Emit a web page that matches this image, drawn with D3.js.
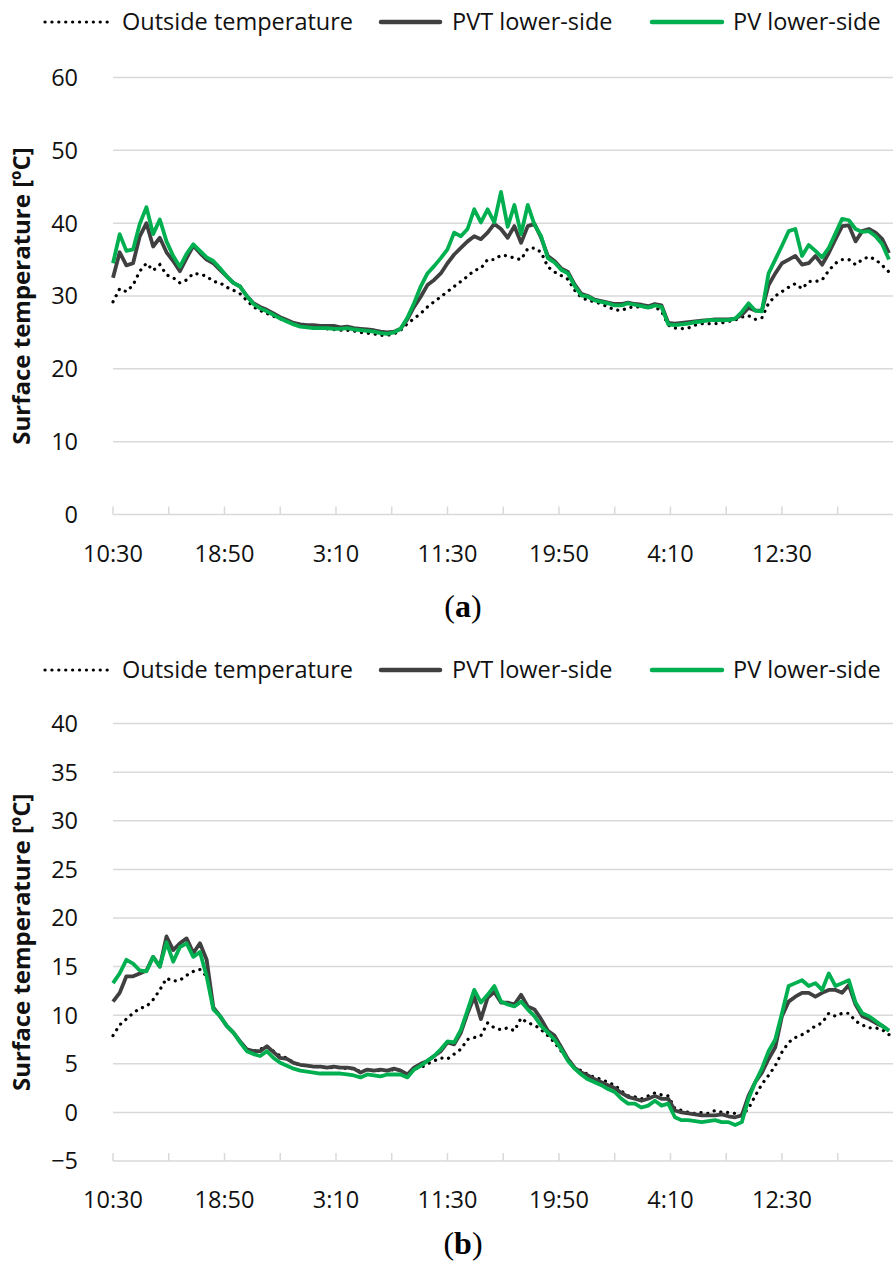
<!DOCTYPE html>
<html><head><meta charset="utf-8">
<script src="https://cdn.jsdelivr.net/npm/d3@7/dist/d3.min.js"></script>
<style>html,body{margin:0;padding:0;background:#fff;}svg{display:block;}</style>
</head><body>
<svg id="chart" width="893" height="1273"></svg>
<script>
// ---- data (30-minute samples starting at 10:30) ----
const startLabel = "10:30";
const stepMinutes = 30;
const xTickLabels = ["10:30","18:50","3:10","11:30","19:50","4:10","12:30"];
const seriesNames = ["Outside temperature","PVT lower-side","PV lower-side"];

const yTicksA = [0,10,20,30,40,50,60];
const outsideA = [29.2,31.0,30.6,31.5,33.4,34.5,33.5,34.3,32.9,32.5,31.8,32.2,33.1,33.0,32.7,32.0,31.8,31.2,30.8,30.3,
29.4,28.5,28.0,27.6,27.2,26.9,26.5,26.2,25.8,25.7,25.6,25.6,25.5,25.4,25.3,25.3,25.2,25.0,24.9,24.8,
24.6,24.6,24.8,25.3,26.2,26.9,27.6,28.5,29.2,29.9,30.6,31.3,32.0,32.7,33.5,33.8,35.0,35.0,35.6,35.5,
35.2,35.0,36.5,36.6,36.0,34.0,33.3,32.8,32.3,30.8,29.8,29.4,29.2,28.9,28.5,28.1,28.0,28.4,28.5,28.5,
28.5,28.5,27.9,26.0,25.6,25.5,25.6,26.0,26.2,26.2,26.2,26.3,26.5,26.7,27.1,27.3,26.8,27.0,29.0,30.0,
30.6,31.2,31.7,31.0,32.0,32.0,32.2,33.5,34.5,35.0,35.0,34.3,35.0,35.4,35.0,34.2,33.3];
const pvtA = [32.5,36.0,34.2,34.5,38.2,40.0,36.8,38.0,36.0,34.8,33.4,35.2,36.9,35.9,35.0,34.5,33.6,32.7,31.8,31.3,
30.0,29.0,28.5,28.1,27.6,27.1,26.7,26.3,26.1,26.0,26.0,25.9,25.9,25.9,25.7,25.8,25.6,25.5,25.4,25.3,
25.1,25.0,25.1,25.5,26.8,28.5,29.9,31.5,32.2,33.1,34.5,35.7,36.6,37.5,38.2,37.8,38.7,39.9,39.2,38.0,
39.6,37.3,39.6,39.9,38.0,35.5,34.8,33.8,33.3,31.6,30.3,30.0,29.5,29.3,29.1,28.9,28.9,29.1,28.9,28.8,
28.6,28.9,28.7,26.3,26.2,26.3,26.4,26.5,26.6,26.7,26.8,26.8,26.8,26.9,27.4,28.4,28.0,28.0,31.5,33.1,
34.5,35.0,35.5,34.3,34.5,35.5,34.3,35.9,37.8,39.6,39.7,37.5,38.9,39.2,38.7,37.8,35.9];
const pvA = [34.5,38.5,36.2,36.4,39.9,42.2,38.5,40.5,37.5,35.5,34.0,35.8,37.1,36.2,35.3,34.8,33.8,32.7,31.8,31.3,
30.0,28.9,28.3,27.9,27.4,26.9,26.5,26.1,25.8,25.7,25.6,25.6,25.6,25.5,25.5,25.6,25.4,25.3,25.2,25.1,
24.9,24.8,25.0,25.5,27.0,29.0,31.3,33.1,34.1,35.2,36.4,38.7,38.2,39.2,41.9,40.1,41.9,40.1,44.3,39.5,
42.5,38.5,42.5,39.8,38.2,35.2,34.6,33.6,33.1,31.4,30.1,29.9,29.4,29.2,29.0,28.7,28.7,29.0,28.8,28.6,
28.4,28.7,28.5,26.1,26.0,26.1,26.2,26.4,26.5,26.7,26.7,26.7,26.7,26.9,27.8,29.0,28.0,27.9,33.1,35.0,
36.9,38.9,39.2,35.5,37.0,36.2,35.3,36.6,38.6,40.6,40.4,39.2,38.8,38.9,38.2,37.1,35.0];

const yTicksB = [-5,0,5,10,15,20,25,30,35,40];
const outsideB = [7.9,9.0,9.6,10.2,10.7,10.9,11.6,12.6,13.8,13.5,13.6,14.1,14.5,14.7,14.0,10.8,9.9,8.9,8.2,7.3,
6.5,6.3,6.5,6.8,6.3,5.8,5.6,5.1,4.9,4.8,4.7,4.7,4.6,4.6,4.6,4.5,4.5,4.2,4.4,4.3,
4.3,4.3,4.4,4.3,3.9,4.5,4.6,5.0,5.3,5.6,5.5,6.0,6.5,7.5,7.7,7.9,9.2,8.7,8.5,8.7,
8.4,9.7,9.2,9.0,8.5,7.9,7.2,6.3,5.5,4.6,4.3,3.9,3.6,3.4,3.1,2.8,2.2,1.7,1.6,1.4,
1.7,2.0,1.8,1.7,0.4,0.2,0.0,-0.1,0.0,-0.1,0.2,0.0,0.0,-0.1,-0.3,0.4,1.7,2.9,3.8,4.8,
6.2,7.2,7.7,8.0,8.4,8.9,9.2,10.2,9.9,10.2,10.2,9.4,9.0,8.7,8.7,8.5,8.0];
const pvtB = [11.4,12.3,14.0,14.0,14.3,14.6,16.0,15.0,18.1,16.7,17.4,17.9,16.4,17.4,15.7,10.8,9.9,8.9,8.2,7.3,
6.5,6.3,6.3,6.8,6.2,5.6,5.5,5.1,4.9,4.8,4.7,4.7,4.6,4.7,4.6,4.6,4.5,4.1,4.4,4.3,
4.4,4.3,4.5,4.3,3.9,4.6,5.0,5.3,5.8,6.3,7.2,7.0,8.2,10.2,11.9,9.6,11.8,12.4,11.3,11.3,
11.1,12.1,10.9,10.6,9.6,8.4,7.9,6.7,5.5,4.6,4.1,3.8,3.4,3.1,2.8,2.5,2.0,1.6,1.4,1.2,
1.4,1.7,1.4,1.4,0.2,0.0,-0.1,-0.2,-0.3,-0.3,-0.3,-0.2,-0.4,-0.5,-0.3,1.7,3.1,4.1,5.5,6.7,
9.9,11.4,11.9,12.3,12.3,11.9,12.3,12.6,12.6,12.3,13.1,11.1,9.9,9.6,9.2,8.9,8.4];
const pvB = [13.3,14.3,15.7,15.3,14.6,14.5,16.0,15.0,17.5,15.5,17.0,17.4,16.0,16.5,14.0,10.6,9.9,8.9,8.2,7.2,
6.3,6.0,5.8,6.3,5.6,5.1,4.8,4.5,4.3,4.2,4.1,4.0,4.0,4.0,4.0,3.9,3.8,3.6,3.9,3.8,
3.7,3.9,3.9,3.9,3.6,4.4,4.8,5.3,5.8,6.5,7.3,7.2,8.5,10.5,12.6,11.3,12.1,13.0,11.4,11.1,
10.9,11.4,10.6,9.9,8.9,8.2,7.5,6.5,5.3,4.5,3.9,3.4,3.1,2.8,2.4,2.1,1.4,0.9,0.9,0.5,
0.7,1.2,0.7,0.9,-0.5,-0.8,-0.8,-0.9,-1.0,-0.9,-0.8,-1.0,-1.0,-1.3,-1.0,1.4,3.1,4.5,6.3,7.5,
10.2,13.0,13.3,13.6,13.0,13.3,12.6,14.3,13.0,13.3,13.6,11.3,10.2,9.9,9.4,8.9,8.4];

// ---- drawing ----
const svg = d3.select("#chart");
const FONT = "'Open Sans', 'Noto Sans', sans-serif";
const colors = {outside:"#000000", pvt:"#404040", pv:"#00b050", grid:"#d9d9d9"};
const xMaxMinutes = 3498;
const x = d3.scaleLinear().domain([0, xMaxMinutes]).range([113, 893]);

function drawPanel(cfg){
  const g = svg.append("g");
  const y = d3.scaleLinear().domain(cfg.yDomain).range(cfg.yRange);
  // gridlines
  g.selectAll("line.grid").data(cfg.yTicks.slice(1)).join("line")
    .attr("x1", 113).attr("x2", 893)
    .attr("y1", d => y(d)).attr("y2", d => y(d))
    .attr("stroke", colors.grid).attr("stroke-width", 1.5);
  // y labels
  g.selectAll("text.ylab").data(cfg.yTicks).join("text")
    .attr("x", 78).attr("y", d => y(d)).attr("dy", "0.36em")
    .attr("text-anchor", "end").attr("font-family", FONT).attr("font-size", 23.5).attr("fill", "#111")
    .text(d => d < 0 ? "\u2212" + Math.abs(d) : d);
  // x axis
  const y0 = y(cfg.yDomain[0]);
  g.append("line").attr("x1", 113).attr("x2", 893).attr("y1", y0).attr("y2", y0)
    .attr("stroke", colors.grid).attr("stroke-width", 1.5);
  const minorTicks = d3.range(0, xMaxMinutes, 250);
  g.selectAll("line.xt").data(minorTicks).join("line")
    .attr("x1", d => x(d)).attr("x2", d => x(d)).attr("y1", y0).attr("y2", y0 - 8)
    .attr("stroke", colors.grid).attr("stroke-width", 1.5);
  g.selectAll("text.xlab").data(xTickLabels).join("text")
    .attr("x", (d, i) => x(i * 500)).attr("y", y0 + 47)
    .attr("text-anchor", "middle").attr("font-family", FONT).attr("font-size", 23.5).attr("fill", "#111")
    .text(d => d);
  // y title
  const yc = (cfg.yRange[0] + cfg.yRange[1]) / 2;
  g.append("text").attr("transform", `translate(30,${yc}) rotate(-90)`)
    .attr("text-anchor", "middle").attr("font-family", FONT).attr("font-size", 24).attr("font-weight", "bold")
    .attr("fill", "#111").text("Surface temperature [\u00baC]");
  // lines
  const line = d3.line().x((d, i) => x(i * stepMinutes)).y(d => y(d));
  g.append("path").datum(cfg.outside).attr("d", line).attr("fill", "none")
    .attr("stroke", colors.outside).attr("stroke-width", 3.2).attr("stroke-linecap", "round")
    .attr("stroke-dasharray", "0.1 6.8");
  g.append("path").datum(cfg.pvt).attr("d", line).attr("fill", "none")
    .attr("stroke", colors.pvt).attr("stroke-width", 3.8).attr("stroke-linejoin", "round");
  g.append("path").datum(cfg.pv).attr("d", line).attr("fill", "none")
    .attr("stroke", colors.pv).attr("stroke-width", 3.8).attr("stroke-linejoin", "round");
  // legend
  const ly = cfg.legendY;
  const items = [
    {name: seriesNames[0], x1: 45, x2: 112, tx: 122, color: colors.outside, dash: "0.1 6.8", w: 3.2},
    {name: seriesNames[1], x1: 381, x2: 440, tx: 452, color: colors.pvt, dash: null, w: 4.5},
    {name: seriesNames[2], x1: 652, x2: 722, tx: 733, color: colors.pv, dash: null, w: 4.5}
  ];
  items.forEach(it => {
    const l = g.append("line").attr("x1", it.x1).attr("x2", it.x2).attr("y1", ly).attr("y2", ly)
      .attr("stroke", it.color).attr("stroke-width", it.w).attr("stroke-linecap", "round");
    if (it.dash) l.attr("stroke-dasharray", it.dash);
    g.append("text").attr("x", it.tx).attr("y", ly).attr("dy", "0.35em")
      .attr("font-family", FONT).attr("font-size", 23.5).attr("fill", "#111").text(it.name);
  });
  // caption
  const cap = g.append("text").attr("x", 463).attr("y", cfg.captionY).attr("text-anchor", "middle")
    .attr("font-family", "'Liberation Serif', 'DejaVu Serif', serif").attr("font-size", 32).attr("fill", "#000");
  cap.append("tspan").text("(");
  cap.append("tspan").attr("font-weight", "bold").text(cfg.letter);
  cap.append("tspan").text(")");
}

drawPanel({yDomain:[0,60], yRange:[514.5,77.5], yTicks:yTicksA, outside:outsideA, pvt:pvtA, pv:pvA,
  legendY:22, captionY:617, letter:"a"});
drawPanel({yDomain:[-5,40], yRange:[1161,723.6], yTicks:yTicksB, outside:outsideB, pvt:pvtB, pv:pvB,
  legendY:670, captionY:1254, letter:"b"});
</script>
</body></html>
